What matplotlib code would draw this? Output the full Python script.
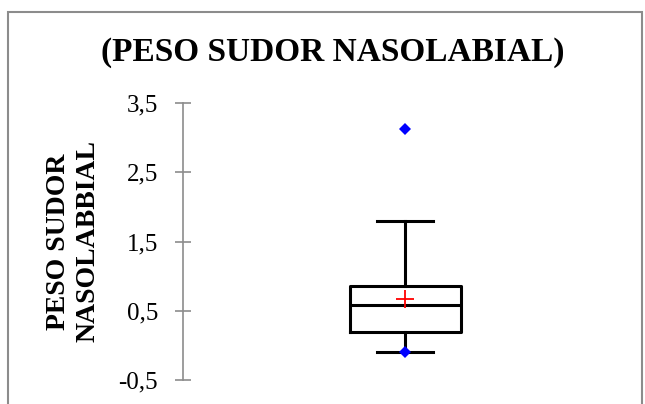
import matplotlib
matplotlib.use("Agg")
import matplotlib.pyplot as plt
from matplotlib.patches import Rectangle
from matplotlib.ticker import FixedLocator, FuncFormatter

plt.rcParams['font.family'] = ['Liberation Serif', 'DejaVu Serif']

title = "(PESO SUDOR NASOLABIAL)"
ylabel = "PESO SUDOR\nNASOLABBIAL"
yticks = [-0.5, 0.5, 1.5, 2.5, 3.5]

q1 = 0.20
median = 0.585
q3 = 0.86
whislo = -0.09
whishi = 1.80
mean = 0.67
points = [3.13, -0.09]

W, H = 645, 404
fig = plt.figure(figsize=(W/100, H/100), dpi=100)

# outer frame
fig.patches.append(Rectangle((8/W, -0.2), (642-8)/W, (H-12)/H + 0.2,
                             transform=fig.transFigure, fill=False,
                             edgecolor='#8c8c8c', linewidth=1.5))

left_px, right_px = 183, 627
top_px, bot_px = 103, 380
ax = fig.add_axes([left_px/W, (H-bot_px)/H, (right_px-left_px)/W, (bot_px-top_px)/H])
ax.set_facecolor('none')

stats = [dict(med=median, q1=q1, q3=q3, whislo=whislo, whishi=whishi,
              mean=mean, fliers=[])]
ax.bxp(stats, positions=[0.5], widths=0.25, showmeans=True, showfliers=False,
       boxprops=dict(color='black', linewidth=2.2),
       medianprops=dict(color='black', linewidth=2.2),
       whiskerprops=dict(color='black', linewidth=2.2),
       capprops=dict(color='black', linewidth=2.2),
       meanprops=dict(marker='+', markeredgecolor='red', markersize=13, markeredgewidth=1.3))
ax.plot([0.5]*len(points), points, linestyle='none', marker='D', color='#0000ff',
        markersize=6.5, markeredgewidth=0, zorder=5)

ax.set_xlim(0, 1)
ax.set_ylim(-0.5, 3.5)
for s in ['top', 'right', 'bottom']:
    ax.spines[s].set_visible(False)
ax.spines['left'].set_color('#8c8c8c')
ax.spines['left'].set_linewidth(1.2)
ax.set_xticks([])
ax.yaxis.set_major_locator(FixedLocator(yticks))
ax.yaxis.set_major_formatter(FuncFormatter(lambda v, p: f"{v:.1f}".replace('.', ',')))
ax.tick_params(axis='y', direction='inout', length=12, width=1.2, color='#8c8c8c',
               labelsize=18, pad=12)

ax.set_ylabel(ylabel, fontsize=20, fontweight='bold', linespacing=1.25)
ax.yaxis.set_label_coords(-0.185, 0.5)
fig.text(333/W, (H-52)/H, title, ha='center', va='center', fontsize=24, fontweight='bold')

fig.savefig("out.png", dpi=100)
